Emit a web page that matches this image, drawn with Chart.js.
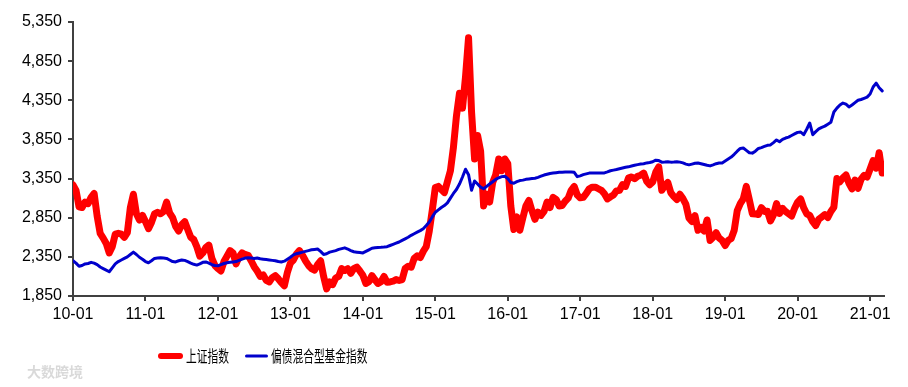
<!DOCTYPE html>
<html>
<head>
<meta charset="utf-8">
<script src="https://cdn.jsdelivr.net/npm/chart.js@4.4.0/dist/chart.umd.min.js"></script>
<style>
  html, body { margin: 0; padding: 0; background: #fff; }
</style>
</head>
<body>
<canvas id="grafico" width="908" height="387"></canvas>
<script>
// nombres de las series y etiquetas del eje x (una por enero)
const seriesNames = ['上证指数', '偏债混合型基金指数']
const yearLabels = ['10-01', '11-01', '12-01', '13-01', '14-01', '15-01', '16-01', '17-01', '18-01', '19-01', '20-01', '21-01']
const yTickValues = [1850, 2350, 2850, 3350, 3850, 4350, 4850, 5350]

// valores cada medio mes desde 2010-01
const sseValues = [
  3270, 3200, 2990, 2980, 3050, 3030, 3110, 3160, 2870, 2650, 2590, 2520, 2400, 2480, 2640, 2650, 2640, 2600, 2660, 2980, 3150, 2900, 2820, 2880,
  2800, 2710, 2790, 2900, 2920, 2900, 2930, 3050, 2910, 2850, 2740, 2680, 2760, 2800, 2700, 2600, 2570, 2480, 2360, 2400, 2470, 2500, 2330, 2240,
  2200, 2170, 2290, 2360, 2430, 2400, 2260, 2350, 2400, 2380, 2370, 2300, 2225, 2170, 2100, 2120, 2050, 2030, 2085, 2110, 2070, 2020, 1980, 2150,
  2270, 2310, 2385, 2430, 2370, 2300, 2240, 2200, 2180, 2250, 2300, 2100, 1940, 2030, 1995, 2080, 2100, 2200, 2175, 2200, 2140, 2200, 2220, 2170,
  2115, 2010, 2033, 2110, 2056, 2010, 2033, 2100, 2026, 2030, 2039, 2060, 2048, 2060, 2200, 2230, 2217, 2330, 2364, 2340, 2420, 2480, 2680, 2950,
  3235, 3250, 3210, 3170, 3310, 3450, 3750, 4150, 4440, 4250, 4650, 5150, 4200, 3600, 3900, 3700, 3000, 3150, 3050, 3300, 3400, 3600, 3450, 3600,
  3540, 3000, 2700, 2860, 2690, 2850, 3000, 3070, 2940, 2830, 2920, 2880, 2930, 3050, 2980, 3110, 3085, 3000, 3005, 3060, 3100, 3200, 3250, 3140,
  3104, 3110, 3160, 3220, 3240, 3240, 3220, 3200, 3155, 3090, 3117, 3140, 3192, 3200, 3273, 3250, 3360, 3370, 3349, 3380, 3393, 3420, 3317, 3270,
  3307, 3430, 3500, 3200, 3259, 3300, 3169, 3120, 3082, 3150, 3095, 3020, 2847, 2800, 2876, 2690, 2725, 2680, 2821, 2560, 2600, 2660, 2590, 2560,
  2494, 2560, 2585, 2690, 2941, 3030, 3091, 3250, 3078, 2900, 2899, 2890, 2979, 2930, 2932, 2810, 2886, 3030, 2905, 2970, 2929, 2900, 2871, 2970,
  3050, 3090, 2977, 2900, 2880, 2800, 2750, 2830, 2860, 2890, 2852, 2930, 2985, 3350, 3310, 3360, 3396, 3290, 3218, 3330, 3225, 3340, 3392, 3370,
  3473, 3580, 3483, 3680, 3420
]
const bondFundValues = [
  2300, 2270, 2230, 2240, 2260, 2265, 2280, 2270, 2250, 2220, 2200, 2180, 2160, 2210, 2260, 2290, 2310, 2330, 2350, 2380, 2410, 2380, 2345, 2320,
  2290, 2275, 2300, 2330, 2335, 2340, 2335, 2330, 2310, 2290, 2285, 2300, 2310, 2305, 2290, 2270, 2255, 2245, 2260, 2280, 2285, 2270, 2250, 2240,
  2235, 2250, 2265, 2275, 2280, 2285, 2290, 2305, 2320, 2335, 2340, 2335, 2330, 2335, 2325, 2320, 2315, 2310, 2305, 2300, 2290, 2285, 2295, 2320,
  2345, 2375, 2390, 2400, 2410, 2420, 2430, 2440, 2445, 2450, 2420, 2380, 2390, 2410, 2420, 2430, 2445, 2455, 2465, 2450, 2430, 2415, 2410, 2405,
  2400, 2420, 2440, 2460, 2465, 2470, 2472, 2475, 2480, 2495, 2510, 2525, 2540, 2560, 2580, 2600, 2625, 2645, 2665, 2685, 2710, 2750, 2795, 2860,
  2920, 2950, 2980, 3005, 3040, 3100, 3160, 3210, 3280, 3370, 3470, 3400, 3200, 3320, 3280, 3240, 3220, 3250, 3280, 3310, 3340, 3360, 3375, 3380,
  3350, 3300, 3290, 3310, 3325, 3330, 3340, 3345, 3350, 3355, 3365, 3380, 3395, 3405, 3415, 3420, 3425, 3430, 3432, 3435, 3435, 3435, 3430, 3375,
  3385, 3400, 3410, 3420, 3420, 3420, 3420, 3420, 3422, 3435, 3450, 3458, 3465, 3475, 3485, 3495, 3500, 3510, 3520, 3528, 3535, 3540, 3550, 3555,
  3565, 3585, 3580, 3560, 3562, 3565, 3560, 3562, 3565, 3560, 3550, 3535, 3525, 3535, 3545, 3548, 3540, 3530, 3520, 3512, 3525, 3540, 3548, 3550,
  3575, 3600, 3625, 3660, 3700, 3735, 3740, 3710, 3680, 3675, 3700, 3735, 3745, 3760, 3775, 3780, 3810, 3843, 3820, 3850, 3868, 3880, 3900, 3920,
  3940, 3945, 3910, 3980, 4060, 3910, 3950, 3985, 4005, 4020, 4045, 4070, 4200, 4250, 4290, 4315, 4300, 4265, 4290, 4320, 4350, 4360, 4375, 4390,
  4430, 4520, 4570, 4510, 4470
]

const colores = ['#ff0000', '#0000cc']
const toPoints = vals => vals.map((v, i) => ({ x: i * 0.5, y: v }))

// leyenda abajo con texto algo estrecho, como en el original
const leyenda = {
  id: 'leyenda',
  afterDraw(chart) {
    const ctx = chart.ctx
    const y = 356
    const items = [
      { x: 158, len: 25, w: 6, color: colores[0], text: seriesNames[0] },
      { x: 245, len: 23, w: 3, color: colores[1], text: seriesNames[1] }
    ]
    ctx.save()
    items.forEach(it => {
      ctx.strokeStyle = it.color
      ctx.lineWidth = it.w
      ctx.lineCap = 'round'
      ctx.beginPath()
      ctx.moveTo(it.x + it.w / 2, y)
      ctx.lineTo(it.x + it.len - it.w / 2, y)
      ctx.stroke()
      ctx.save()
      ctx.translate(it.x + it.len + 3, y)
      ctx.scale(0.67, 1)
      ctx.fillStyle = '#000'
      ctx.font = '16px "Noto Sans CJK SC"'
      ctx.textBaseline = 'middle'
      ctx.fillText(it.text, 0, 0)
      ctx.restore()
    })
    // marca de agua
    ctx.fillStyle = 'rgba(185,185,185,0.55)'
    ctx.font = 'bold 14px "Noto Sans CJK SC"'
    ctx.textBaseline = 'middle'
    ctx.fillText('大数跨境', 27, 372)
    ctx.restore()
  }
}

const data = {
  datasets: [{
    label: seriesNames[0],
    data: toPoints(sseValues),
    borderColor: colores[0],
    backgroundColor: colores[0],
    borderWidth: 7,
    order: 1
  }, {
    label: seriesNames[1],
    data: toPoints(bondFundValues),
    borderColor: colores[1],
    backgroundColor: colores[1],
    borderWidth: 3,
    order: 0
  }]
}

const ejeColor = '#404040'
const fuenteTicks = { family: '"Liberation Sans", Arial, sans-serif', size: 16 }

const config = {
  type: 'line',
  data,
  options: {
    responsive: false,
    animation: false,
    layout: { padding: { top: 22, right: 24, bottom: 0, left: 0 } },
    elements: {
      point: { radius: 0 },
      line: { tension: 0, borderJoinStyle: 'round', borderCapStyle: 'round', fill: false }
    },
    plugins: {
      legend: { display: false },
      tooltip: { enabled: false }
    },
    scales: {
      x: {
        type: 'linear',
        min: 0,
        max: 134.3,
        afterBuildTicks: axis => {
          axis.ticks = yearLabels.map((l, i) => ({ value: i * 12 }))
        },
        afterFit: axis => { axis.height = 91 },
        ticks: {
          callback: v => yearLabels[Math.round(v / 12)],
          color: '#000',
          font: fuenteTicks,
          padding: 4,
          maxRotation: 0,
          autoSkip: false
        },
        grid: { display: true, drawOnChartArea: false, tickLength: 5, color: ejeColor, lineWidth: 2 },
        border: { display: true, color: ejeColor, width: 2 }
      },
      y: {
        min: 1850,
        max: 5350,
        afterBuildTicks: axis => {
          axis.ticks = yTickValues.map(v => ({ value: v }))
        },
        afterFit: axis => { axis.width = 73 },
        ticks: {
          callback: v => v.toLocaleString('en-US'),
          color: '#000',
          font: fuenteTicks,
          padding: 6
        },
        grid: { display: true, drawOnChartArea: false, tickLength: 5, color: ejeColor, lineWidth: 2 },
        border: { display: true, color: ejeColor, width: 2 }
      }
    }
  },
  plugins: [leyenda]
}

document.addEventListener('DOMContentLoaded', () => {
  new Chart(document.getElementById('grafico'), config)
})
</script>
</body>
</html>
